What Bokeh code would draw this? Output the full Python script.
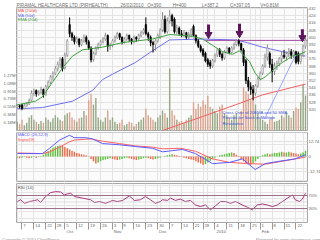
from bokeh.plotting import figure
from bokeh.layouts import column
from bokeh.models import (ColumnDataSource, LinearAxis, Range1d, FixedTicker, Grid,
                          Span, Label, Title, PrintfTickFormatter)
from bokeh.embed import file_html
from bokeh.resources import INLINE

# ---------------- data ----------------
opens = [322, 324, 325, 321, 324, 326, 330, 338, 341, 337,
         339, 342, 336, 345, 350, 356, 360, 365, 370, 376,
         366, 380, 414, 404, 400, 395, 398, 392, 396, 400,
         395, 388, 375, 382, 388, 392, 395, 398, 402, 390,
         391, 396, 400, 404, 400, 395, 398, 402, 398, 395,
         400, 398, 402, 405, 414, 404, 400, 394, 392, 396,
         400, 408, 420, 406, 418, 424, 420, 406, 410, 404,
         402, 405, 400, 403, 412, 402, 396, 390, 386, 382,
         375, 372, 368, 374, 380, 386, 381, 377, 384, 388,
         383, 388, 392, 396, 393, 386, 374, 352, 345, 342,
         338, 346, 354, 360, 368, 378, 382, 370, 362, 368,
         371, 376, 380, 378, 382, 384, 380, 384, 382, 373,
         380, 390]
highs = [326, 325, 326, 326, 328, 332, 341, 343, 342, 341,
         345, 343, 347, 352, 358, 362, 368, 373, 378, 378,
         383, 398, 422, 406, 402, 401, 399, 398, 403, 402,
         397, 390, 384, 390, 394, 397, 400, 405, 403, 394,
         398, 402, 406, 405, 401, 400, 404, 403, 399, 402,
         401, 404, 407, 410, 422, 406, 402, 396, 398, 404,
         410, 428, 424, 422, 430, 426, 422, 414, 412, 408,
         408, 406, 406, 410, 414, 403, 398, 392, 388, 384,
         377, 375, 376, 382, 388, 388, 383, 386, 390, 389,
         390, 394, 398, 398, 394, 388, 376, 356, 350, 347,
         348, 356, 362, 370, 382, 392, 384, 376, 372, 374,
         378, 384, 386, 384, 388, 387, 386, 385, 384, 382,
         392, 400]
lows = [320, 321, 319, 320, 323, 325, 329, 335, 334, 335,
        337, 333, 335, 343, 348, 352, 358, 362, 366, 362,
        364, 378, 400, 396, 392, 393, 389, 390, 394, 392,
        386, 372, 373, 380, 386, 390, 393, 396, 384, 386,
        389, 394, 398, 397, 392, 393, 396, 395, 392, 393,
        395, 396, 400, 403, 402, 396, 390, 383, 385, 394,
        398, 406, 404, 404, 415, 412, 404, 403, 402, 400,
        400, 398, 398, 400, 400, 393, 388, 383, 378, 372,
        367, 365, 366, 372, 378, 378, 374, 375, 382, 381,
        382, 386, 390, 390, 384, 368, 348, 340, 336, 330,
        335, 344, 352, 358, 366, 374, 366, 350, 358, 364,
        368, 372, 376, 374, 378, 376, 377, 370, 370, 370,
        378, 387.2]
closes = [324, 323, 321, 324, 326, 330, 338, 340, 337, 339,
          342, 336, 345, 350, 356, 360, 365, 370, 375, 365,
          380, 396, 404, 400, 395, 398, 392, 396, 400, 395,
          388, 375, 382, 388, 392, 395, 398, 402, 390, 391,
          396, 400, 404, 400, 395, 398, 402, 398, 395, 400,
          398, 402, 405, 408, 404, 400, 394, 392, 396, 402,
          408, 420, 406, 418, 424, 418, 406, 410, 404, 402,
          405, 400, 403, 408, 402, 396, 390, 385, 380, 374,
          370, 368, 374, 380, 386, 381, 377, 384, 388, 383,
          388, 392, 396, 393, 386, 372, 352, 345, 342, 338,
          346, 354, 360, 368, 378, 388, 370, 362, 368, 371,
          376, 380, 378, 382, 384, 380, 384, 372, 373, 380,
          390, 397.05]
volume_m = [0.20, 0.15, 0.25, 0.12, 0.18, 0.30, 0.35, 0.25, 0.20, 0.15,
            0.22, 0.18, 0.30, 0.25, 0.20, 0.28, 0.35, 0.30, 0.25, 0.22,
            0.35, 0.40, 0.42, 0.30, 0.25, 0.20, 0.28, 0.30, 0.45, 0.35,
            0.70, 0.85, 0.60, 0.75, 0.30, 0.25, 0.20, 0.30, 0.46, 0.25,
            0.30, 0.20, 0.15, 0.18, 0.25, 0.12, 0.15, 0.20, 0.18, 0.10,
            0.15, 0.20, 0.25, 0.30, 0.50, 0.35, 0.30, 0.25, 0.20, 0.30,
            0.35, 0.46, 0.40, 0.30, 1.43, 0.46, 0.35, 0.25, 0.20, 0.22,
            0.18, 0.25, 0.30, 0.35, 0.65, 0.50, 0.62, 0.55, 0.69, 0.60,
            0.80, 0.55, 0.50, 0.45, 0.40, 0.55, 0.60, 0.40, 0.35, 0.30,
            0.25, 0.35, 0.40, 0.30, 0.45, 1.00, 0.90, 0.85, 0.70, 0.92,
            0.60, 0.40, 0.30, 0.25, 0.20, 0.15, 0.25, 0.30, 0.20, 0.22,
            0.25, 0.35, 0.30, 0.40, 0.35, 0.30, 0.45, 0.53, 0.50, 0.65,
            1.05, 0.81]
macd_hist = [-1, -1.5, -1, -0.5, -1, -1.5, -1, -0.5, -1, -0.5,
             0.5, 1.5, 3, 4.5, 6, 7.5, 8.5, 9, 9.3, 9,
             8, 7, 6, 5, 4, 3, 2.5, 2, 1.5, 1,
             0.3, -2, -4, -6, -5, -4, -3, -2.5, -2, -1.5,
             -2, -2.5, -3, -2.5, -2, -1.5, -1, -1.5, -2, -2.5,
             -3, -2.5, -2, -1.5, -1, -1.5, -2, -2.5, -2, -1.5,
             -1, 0, 0.5, 1, 1.5, 2, 1.5, 1, 0.5, -0.5,
             -1, -1.5, -2, -2.5, -3, -4, -5, -6, -7, -6.5,
             -5, -3.5, -2, -1, 0, 1, 1.5, 2, 2.5, 3,
             3.5, 3, 1.5, -0.5, -2, -4, -5.5, -6.5, -7, -6,
             -4, -2, -0.5, 1, 2, 2.5, 2, 2.5, 3, 3,
             3.5, 4, 3.5, 3.5, 4, 3.5, 3, 2.5, 2, 2.5,
             3.5, 5]
macd_days = [0.1, 10.6, 13.6, 17.8, 21.9, 24, 28.7, 31.6, 35.8, 42.9, 49.6, 56.8,
             61, 65.2, 69.4, 74.8, 82, 89.1, 94.5, 99.9, 104.1, 110.1, 116.7, 121]
macd_vals = [2.5, 2.5, 7, 14, 18, 16, 16, 15, 11, 10, 8.5, 7,
             4, 5, 6, 2.5, -6, -5, -2, -11, -6, -4, -2, 1.5]
signal_days = [0.1, 10.6, 13.6, 17.8, 21.9, 24, 30.8, 35.8, 42.9, 49.6, 56.8,
               61, 68.5, 74.8, 82, 89.1, 96.6, 104.1, 111.3, 116.7, 121]
signal_vals = [3, 2.5, 4, 8, 12.5, 14, 15, 13, 11, 9, 8,
               6.5, 7, 4.5, -2, -5, -6, -6.5, -4, -2, -0.5]
rsi_days = [0.1, 1.4, 3.1, 5.2, 7.3, 8.5, 9.8, 11.9, 14, 16.1, 18.2, 19.8, 21.1,
            22.4, 24, 27.4, 30.8, 32.4, 34.5, 37.1, 40, 42.1, 44.2, 47.1, 49.2,
            51.7, 53.8, 55.9, 58, 60.1, 61, 63.1, 64.3, 66.4, 68.5, 70.6, 72.7,
            74.8, 76.9, 79, 81.1, 83.2, 85.3, 87.4, 89.5, 91.6, 94.5, 96.6, 98.7,
            100.8, 102.9, 104.9, 107.1, 109.2, 111.3, 113.4, 115.5, 116.7, 118.5,
            119.7, 121]
rsi_vals = [51.5, 57, 46, 51.5, 54.6, 57, 48.5, 67, 79, 82, 81, 72, 75,
            77, 67, 62, 57, 48.5, 51.5, 46, 54.6, 51.5, 54.6, 69, 54.6,
            57, 67, 57, 46, 51.5, 57, 55, 62, 55, 59, 51.5, 55,
            41, 36, 41, 26, 38, 51.5, 51.5, 46, 51.5, 41, 34, 26,
            41, 44, 41, 36, 41, 51.5, 62, 72, 57, 51.5,
            59, 77]
ema20_days = [0.1, 7.7, 10.6, 14.8, 19, 23.2, 27.4, 35.8, 44.2, 56.8, 63.9, 69.4,
              73.6, 77.8, 82, 86.1, 90.3, 93.3, 97.5, 99.9, 102.1, 104.1, 108.4,
              111.3, 115.5, 118.5, 121]
ema20_vals = [325, 329, 334, 350, 366, 379, 386, 389, 394, 398, 403, 402,
              401, 398, 391, 384, 381, 385, 373, 360, 353, 356, 366,
              372, 379, 381, 384]
ma50_days = [0.1, 10.6, 23.2, 31.6, 35.8, 40, 49.6, 56.8, 63.9, 77.8, 91.6, 96.6,
             102.9, 111.3, 121]
ma50_vals = [320.5, 322, 329, 341, 353, 359, 372, 385, 397, 398, 397, 394,
             389, 384, 379]
ma200_days = [61, 77.8, 91.6, 102.9, 121]
ma200_vals = [296.5, 312, 325, 336, 348]
resist_days = [79.0, 121.8]
resist_vals = [396.5, 396.5]
arrow_days = [80.3, 93.3, 119.7]
arrow_tops = [414, 415, 409]
arrow_heads = [403, 404, 399.5]
note_line_days = [103.8, 116.8]
note_line_vals = [309.2, 380.0]
note_day = 86.2
note_vals = [317.0, 310.5, 304.0]
note_texts = ["Cross Over of 20EMA and 50 SMA.", "Positive for Stock at Multiple", "Resistance"]

tick_days = [2, 7, 12, 16, 20, 25, 30, 35, 40, 44, 49, 54, 59, 64, 69, 74, 78,
             83, 88, 93, 98, 102, 107, 112, 117]
tick_labels = ["7", "14", "22", "28", "5", "12", "19", "26", "3", "9", "16", "23",
               "30", "7", "14", "21", "28", "4", "11", "18", "25", "1", "8", "15", "22"]
month_days = [20, 40, 59, 83, 102]
month_labels = ["Oct", "Nov", "Dec", "2010", "Feb"]
price_ticks = [320, 328, 336, 344, 352, 360, 368, 376, 384, 392, 400, 408, 416, 424, 432]
vol_ticks = [0.18, 0.36, 0.55, 0.73, 0.91, 1.09, 1.27]
macd_ticks = [-12.74, 0, 12.74]
macd_tick_labels = ["-12.74", "0", "12.74"]
rsi_ticks = [30, 70]
rsi_tick_labels = ["30%", "70%"]

title_parts = ["PIRAMAL HEALTHCARE LTD (PIRHEALTH)", "26/02/2010", "O=390", "H=400",
               "L=387.2", "C=397.05", "V=0.81M"]
footer_texts = ["Copyright \u00a9 2010 ChartNexus", "Powered by www.chartnexus.com"]
footer_anchor_days = [5.8, 114.3]   # where each footer text is centred along the date axis

# ---------------- styling ----------------
FONT = "Liberation Sans"
PX_PER_DAY = 291 / 122.14
X_RANGE = (-0.3, 121.84)
BG = "#fbfbfb"
GRID = "#e4e4e4"
FRAME = "#a8a8a8"
AXF = "4.3px"

n = len(closes)
days = list(range(n))
is_up = [c >= o for o, c in zip(opens, closes)]
src = ColumnDataSource(dict(
    x=days, o=opens, h=highs, l=lows, c=closes,
    top=[max(o, c) for o, c in zip(opens, closes)],
    bot=[min(o, c) for o, c in zip(opens, closes)],
    fill=["#ffffff" if u else "#000000" for u in is_up],
    line=["#8a8a8a" if u else "#000000" for u in is_up],
    vol=volume_m,
    vcol=["#97a886" if u else "#dba58f" for u in is_up],
))


def base_fig(fh, top, bottom):
    f = figure(frame_width=291, frame_height=fh, x_range=Range1d(*X_RANGE),
               title=None, toolbar_location=None, output_backend="svg",
               x_axis_location=None, y_axis_location=None,
               min_border_left=14, min_border_right=15,
               min_border_top=top, min_border_bottom=bottom,
               background_fill_color=BG, border_fill_color="#ffffff",
               outline_line_color=FRAME, outline_line_width=1)
    f.add_layout(Grid(dimension=0, ticker=FixedTicker(ticks=tick_days),
                      grid_line_color=GRID, grid_line_width=1))
    return f


def style_axis(ax):
    ax.major_label_text_font = FONT
    ax.major_label_text_font_size = AXF
    ax.major_label_text_color = "#666666"
    ax.axis_line_color = None
    ax.major_tick_line_color = None
    ax.minor_tick_line_color = None
    ax.major_tick_out = 0
    ax.major_tick_in = 0
    ax.minor_tick_out = 0
    ax.minor_tick_in = 0
    ax.major_label_standoff = 1
    return ax


# ---------------- main price panel ----------------
p1 = base_fig(123, 0, 1)
p1.y_range = Range1d(296.5, 433.0)
p1.extra_y_ranges = {"vol": Range1d(0, 2.84)}
title_text = (title_parts[0] + "\u00a0" * 10 + title_parts[1] + "\u00a0" * 3 + title_parts[2]
              + "\u00a0" * 9 + title_parts[3] + "\u00a0" * 12 + title_parts[4]
              + "\u00a0" * 9 + title_parts[5] + "\u00a0" * 8 + title_parts[6])
p1.add_layout(Title(text=title_text, text_font=FONT, text_font_size="4.6px",
                    text_font_style="normal", text_color="#707070", align="left",
                    standoff=0, offset=0), "above")
p1.add_layout(Grid(dimension=1, ticker=FixedTicker(ticks=price_ticks),
                   grid_line_color=GRID, grid_line_width=1))

ax_price = style_axis(LinearAxis(ticker=FixedTicker(ticks=price_ticks)))
p1.add_layout(ax_price, "right")
ax_vol = style_axis(LinearAxis(y_range_name="vol", ticker=FixedTicker(ticks=vol_ticks),
                               formatter=PrintfTickFormatter(format="%.2fM")))
p1.add_layout(ax_vol, "left")

p1.vbar(x="x", top="vol", bottom=0, width=0.6, fill_color="vcol", line_color=None,
        y_range_name="vol", source=src)
p1.line(ma200_days, ma200_vals, line_color="#f06060", line_width=1)
p1.line(ma50_days, ma50_vals, line_color="#6f6ff0", line_width=1)
p1.line(resist_days, resist_vals, line_color="#a04aa0", line_width=1)
p1.segment(x0="x", y0="h", x1="x", y1="l", line_color="line", line_width=1, source=src)
p1.vbar(x="x", top="top", bottom="bot", width=0.62, fill_color="fill",
        line_color="line", line_width=0.6, source=src)
p1.line(ema20_days, ema20_vals, line_color="#3c9e3c", line_width=1)
p1.line(note_line_days, note_line_vals, line_color="#9aa6ff", line_width=1)
p1.segment(x0=arrow_days, y0=arrow_tops, x1=arrow_days, y1=arrow_heads,
           line_color="#5c165c", line_width=3)
p1.scatter(arrow_days, arrow_heads, marker="inverted_triangle", size=7,
           fill_color="#5c165c", line_color="#5c165c")

for txt, yv in zip(note_texts, note_vals):
    p1.add_layout(Label(x=note_day, y=yv, text=txt, text_font=FONT, text_font_size="4.2px",
                        text_color="#3b4fd8", text_baseline="middle", text_align="left"))

legend_items = [("MA (200d)", "#ee5050", 429.6), ("MA (50d)", "#6666ee", 424.6),
                ("EMA (20d)", "#3c9e3c", 419.6)]
for txt, col, yv in legend_items:
    p1.add_layout(Label(x=0.2, y=yv, text=txt, text_font=FONT, text_font_size="4.2px",
                        text_color=col, text_baseline="middle", text_align="left"))

# ---------------- MACD panel ----------------
p2 = base_fig(49, 1, 1)
p2.y_range = Range1d(-21.2, 20.4)
p2.add_layout(Grid(dimension=1, ticker=FixedTicker(ticks=macd_ticks),
                   grid_line_color=GRID, grid_line_width=1))
ax_macd = style_axis(LinearAxis(ticker=FixedTicker(ticks=macd_ticks),
                                major_label_overrides=dict(zip(macd_ticks, macd_tick_labels))))
p2.add_layout(ax_macd, "right")
hist_col = ["#5fbf3f" if (i == 0 or macd_hist[i] >= macd_hist[i - 1]) else "#f06a4a"
            for i in range(n)]
p2.vbar(x=days, top=macd_hist, bottom=0, width=0.6, fill_color=hist_col, line_color=None)
p2.line(signal_days, signal_vals, line_color="#ff6060", line_width=1)
p2.line(macd_days, macd_vals, line_color="#5a5aff", line_width=1)
p2.add_layout(Label(x=0.2, y=18.4, text="MACD (26,12,9)", text_font=FONT,
                    text_font_size="4.2px", text_color="#5a5aff", text_baseline="middle"))
p2.add_layout(Label(x=0.2, y=14.2, text="Signal(9)", text_font=FONT,
                    text_font_size="4.2px", text_color="#ff5050", text_baseline="middle"))

# ---------------- RSI panel ----------------
p3 = base_fig(39, 1, 0)
p3.y_range = Range1d(-13, 107)
ax_rsi = style_axis(LinearAxis(ticker=FixedTicker(ticks=rsi_ticks),
                               major_label_overrides=dict(zip(rsi_ticks, rsi_tick_labels))))
p3.add_layout(ax_rsi, "right")
for lv in rsi_ticks:
    p3.add_layout(Span(location=lv, dimension="width", line_color="#9c6f88", line_width=1))
p3.add_layout(Span(location=50, dimension="width", line_color="#c4c4c4", line_width=1,
                   line_dash="1 1"))
p3.line(rsi_days, rsi_vals, line_color="#a8387c", line_width=1)
p3.add_layout(Label(x=0.2, y=94.5, text="RSI (14)", text_font=FONT,
                    text_font_size="4.2px", text_color="#555555", text_baseline="middle"))


# date axis: tick marks at the trading days, labels just to the right of each mark
def label_pos(d, s):
    return round(d + (1.2 + len(s) * 1.3) / PX_PER_DAY, 3)


lab_pos = [label_pos(d, s) for d, s in zip(tick_days, tick_labels)]
ax_days = style_axis(LinearAxis(ticker=FixedTicker(ticks=lab_pos, minor_ticks=tick_days),
                                major_label_overrides=dict(zip(lab_pos, tick_labels))))
ax_days.minor_tick_line_color = "#9a9a9a"
ax_days.minor_tick_out = 7
ax_days.major_label_standoff = -6
p3.add_layout(ax_days, "below")

mon_pos = [label_pos(d, s) for d, s in zip(month_days, month_labels)]
ax_mon = style_axis(LinearAxis(ticker=FixedTicker(ticks=mon_pos),
                               major_label_overrides=dict(zip(mon_pos, month_labels))))
ax_mon.major_label_standoff = -1
p3.add_layout(ax_mon, "below")

# footer line (copyright / powered-by) carried by one more label row under the dates
ax_foot = style_axis(LinearAxis(ticker=FixedTicker(ticks=footer_anchor_days),
                                major_label_overrides=dict(zip(footer_anchor_days, footer_texts))))
ax_foot.major_label_text_color = "#8a8a8a"
ax_foot.major_label_standoff = 0
p3.add_layout(ax_foot, "below")

layout = column(p1, p2, p3, spacing=0)
open("out.html", "w").write(file_html(layout, INLINE))
